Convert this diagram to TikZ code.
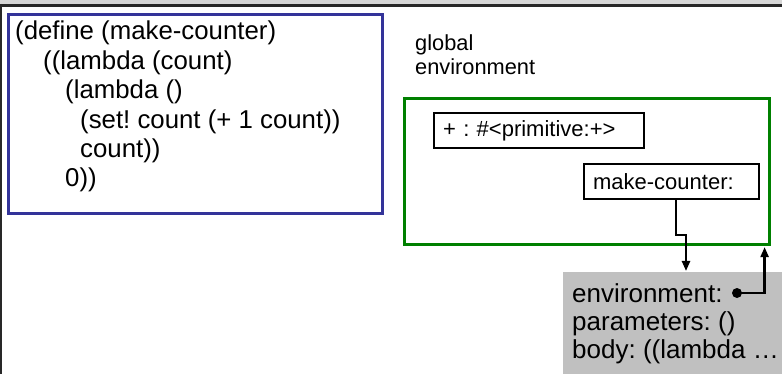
\documentclass[tikz,border=0pt]{standalone}
\usepackage{fontspec}
\setmainfont{Liberation Sans}
\usetikzlibrary{arrows.meta,calc}
\frenchspacing

\definecolor{codeblue}{RGB}{51,51,153}
\definecolor{envgreen}{RGB}{0,128,0}
\definecolor{procgray}{RGB}{192,192,192}
\definecolor{rulegray}{RGB}{40,40,40}
\definecolor{topgray}{RGB}{215,215,215}

\tikzset{
  codeline/.style={anchor=base west, inner sep=0pt, font=\fontsize{25.8}{29}\selectfont},
  labeltext/.style={anchor=base west, inner sep=0pt, font=\fontsize{21.8}{25}\selectfont},
  frametext/.style={anchor=base west, inner sep=0pt, font=\fontsize{26}{29}\selectfont},
  binding/.style={draw=black, line width=2.2pt, anchor=north west, inner xsep=9pt,
    align=left, font=\fontsize{22}{25}\selectfont},
  pointer/.style={line width=2.3pt, -{Triangle[length=10pt,width=8pt]}},
}

\begin{document}
\begin{tikzpicture}[x=1pt,y=-1pt]
\useasboundingbox (0,0) rectangle (782,374);
\clip (0,0) rectangle (782,374);

% slide edges
\fill[topgray] (0,0) rectangle (782,4);
\draw[rulegray, line width=3pt] (0,5.5) -- (782,5.5);
\draw[rulegray, line width=2.5pt] (1,4) -- (1,374);

% code box
\node[draw=codeblue, line width=2.6pt, anchor=north west, minimum width=374pt,
      minimum height=199pt, inner sep=0pt] (codebox) at (7,13) {};
\node[codeline] (c1) at (15,40)    {(define (make-counter)};
\node[codeline] (c2) at (43,69.4)  {((lambda (count)};
\node[codeline] (c3) at (65,98.8)  {(lambda ()};
\node[codeline] (c4) at (80,128.2) {(set! count (+ 1 count))};
\node[codeline] (c5) at (80,157.6) {count))};
\node[codeline] (c6) at (65,187)   {0))};

% global environment
\node[labeltext] (g1) at (415,50.5) {global};
\node[labeltext] (g2) at (415,75)   {environment};
\node[draw=envgreen, line width=2.6pt, anchor=north west, minimum width=365pt,
      minimum height=146pt, inner sep=0pt] (genv) at (403,97) {};
\node[binding, minimum width=210pt, minimum height=35pt, text width=192pt] (plus) at (433,112)
  {+ : \#<primitive:+>};
\node[binding, minimum width=175pt, minimum height=35pt, text width=157pt] (mc) at (583,163)
  {make-counter:};

% procedure object
\node[fill=procgray, anchor=north west, minimum width=240pt, minimum height=120pt,
      inner sep=0pt] (proc) at (563,272) {};
\node[frametext] (p1) at (572,302) {environment:};
\node[frametext] (p2) at (572,330) {parameters: ()};
\node[frametext] (p3) at (572,358) {body: ((lambda …};
\node[circle, fill=black, inner sep=0pt, minimum size=10pt] (dot) at (737,293) {};

% pointers
\coordinate (mcout) at ($(mc.south)+(4.5,0)$);
\draw[pointer] (mcout) -- ++(0,35) -| ($(proc.north west)+(123,-1)$);
\draw[pointer] (dot.center) -| ($(genv.south east)+(-6,1.5)$);
\end{tikzpicture}
\end{document}
